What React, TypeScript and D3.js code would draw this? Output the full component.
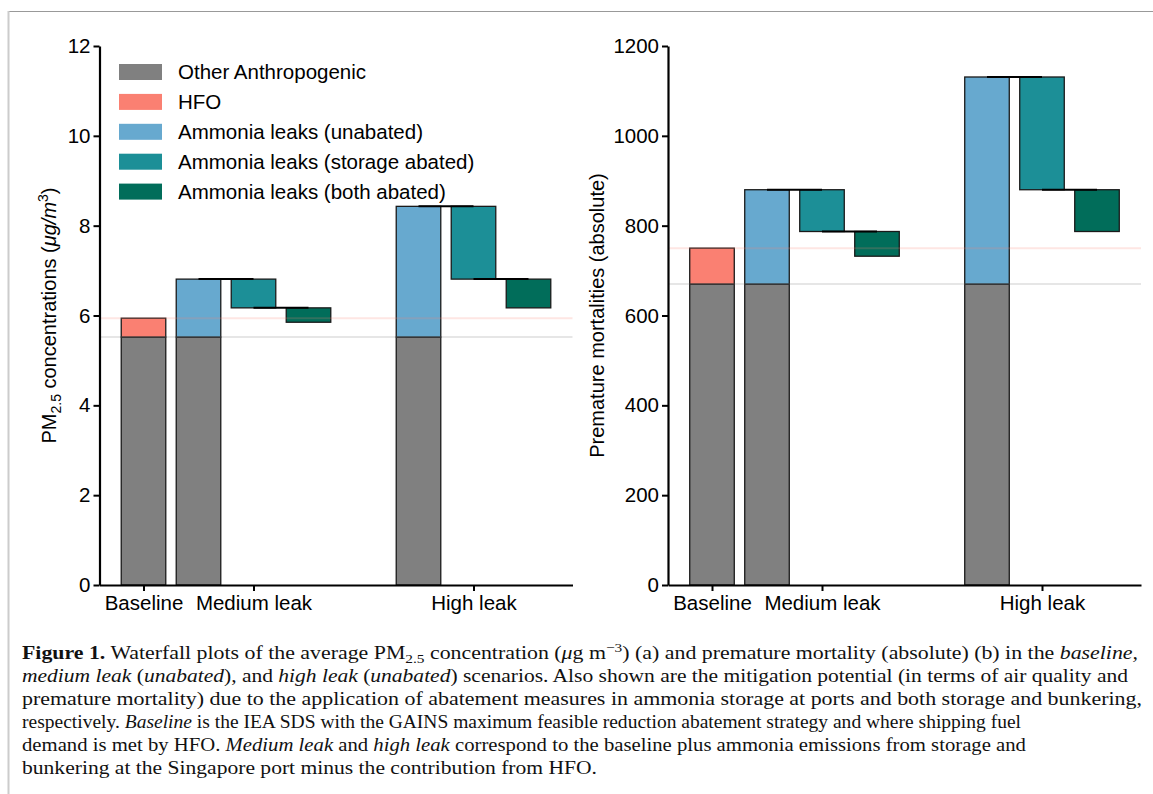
import React, { useEffect, useRef } from "react";
import * as d3 from "d3";

const FONT = "'Liberation Sans', Arial, Helvetica, sans-serif";
const SERIF = "'Liberation Serif', 'Times New Roman', serif";

const scenarios = ["Baseline", "Medium leak", "High leak"];
const tickSlots = [0, 2, 6];

const legendLabels = [
  "Other Anthropogenic",
  "HFO",
  "Ammonia leaks (unabated)",
  "Ammonia leaks (storage abated)",
  "Ammonia leaks (both abated)",
];
const colors = ["#808080", "#fa8072", "#67a9cf", "#1c8f97", "#016d5a"];

// PM2.5 (ug/m3): baseline = [other anthropogenic, + HFO]
const pmBaseline = [5.52, 5.94];
// leak scenarios = [unabated, storage abated, both abated]
const pmMedium = [6.81, 6.17, 5.85];
const pmHigh = [8.43, 6.81, 6.17];
const pmTicks = [0, 2, 4, 6, 8, 10, 12];

// premature mortalities (absolute)
const mortBaseline = [670, 750];
const mortMedium = [880, 787, 732];
const mortHigh = [1131, 880, 787];
const mortTicks = [0, 200, 400, 600, 800, 1000, 1200];

const yTop = 46;
const yBottom = 585;
const plotW = 473;

function Panel({ axisX, yMax, ticks, base, med, high, labelX, label, legend }: any) {
  const gx = useRef<SVGGElement>(null);
  const gy = useRef<SVGGElement>(null);

  const x = d3.scaleLinear().domain([-0.8, 7.8]).range([axisX, axisX + plotW]);
  const y = d3.scaleLinear().domain([0, yMax]).range([yBottom, yTop]);
  const bw = x(0.81) - x(0);

  useEffect(() => {
    const xAxis = d3
      .axisBottom(x)
      .tickValues(tickSlots)
      .tickFormat((d, i) => scenarios[i])
      .tickSize(6)
      .tickSizeOuter(0)
      .tickPadding(4);
    const sx = d3.select(gx.current).call(xAxis as any);
    const yAxis = d3
      .axisLeft(y)
      .tickValues(ticks)
      .tickFormat(d3.format("d"))
      .tickSize(6)
      .tickSizeOuter(0)
      .tickPadding(3);
    const sy = d3.select(gy.current).call(yAxis as any);
    [sx, sy].forEach((s) => {
      s.select(".domain").attr("stroke", "#000").attr("stroke-width", 2.2);
      s.selectAll(".tick line").attr("stroke", "#000").attr("stroke-width", 2);
      s.selectAll("text").attr("font-size", 20.5).attr("font-family", FONT).attr("fill", "#000");
    });
  }, [axisX, yMax]);

  const other = base[0];
  const bars = [
    { slot: 0, y0: 0, y1: other, c: colors[0] },
    { slot: 0, y0: other, y1: base[1], c: colors[1] },
    { slot: 1, y0: 0, y1: other, c: colors[0] },
    { slot: 1, y0: other, y1: med[0], c: colors[2] },
    { slot: 2, y0: med[1], y1: med[0], c: colors[3] },
    { slot: 3, y0: med[2], y1: med[1], c: colors[4] },
    { slot: 5, y0: 0, y1: other, c: colors[0] },
    { slot: 5, y0: other, y1: high[0], c: colors[2] },
    { slot: 6, y0: high[1], y1: high[0], c: colors[3] },
    { slot: 7, y0: high[2], y1: high[1], c: colors[4] },
  ];
  const connectors = [
    { from: 1, to: 2, v: med[0] },
    { from: 2, to: 3, v: med[1] },
    { from: 5, to: 6, v: high[0] },
    { from: 6, to: 7, v: high[1] },
  ];

  return (
    <g>
      {bars.map((b, i) => (
        <rect
          key={i}
          x={x(b.slot) - bw / 2}
          y={y(b.y1)}
          width={bw}
          height={y(b.y0) - y(b.y1)}
          fill={b.c}
          stroke="#1a1a1a"
          strokeWidth={1.3}
        />
      ))}
      <line x1={x(-0.8)} x2={x(7.8)} y1={y(base[1])} y2={y(base[1])} stroke="rgba(250,128,114,0.2)" strokeWidth={2} />
      <line x1={x(-0.8)} x2={x(7.8)} y1={y(other)} y2={y(other)} stroke="rgba(128,128,128,0.2)" strokeWidth={2} />
      {connectors.map((c, i) => (
        <line key={i} x1={x(c.from)} x2={x(c.to)} y1={y(c.v)} y2={y(c.v)} stroke="#000" strokeWidth={2} />
      ))}
      <g ref={gx} transform={`translate(0,${yBottom})`} />
      <g ref={gy} transform={`translate(${axisX},0)`} />
      <text
        transform={`translate(${labelX},${(yTop + yBottom) / 2}) rotate(-90)`}
        textAnchor="middle"
        fontFamily={FONT}
        fontSize={20}
        fill="#000"
      >
        {label}
      </text>
      {legend &&
        legendLabels.map((l, i) => (
          <g key={l} transform={`translate(119,${72 + i * 29.9})`}>
            <rect x={0} y={-8} width={43} height={16} fill={colors[i]} />
            <text x={59} y={7} fontFamily={FONT} fontSize={20.5} fill="#000">
              {l}
            </text>
          </g>
        ))}
    </g>
  );
}

const captionLines: any[] = [
  [
    ["b", "Figure 1."],
    ["", " Waterfall plots of the average PM"],
    ["sub", "2.5"],
    ["", " concentration ("],
    ["i", "\u03bc"],
    ["", "g m"],
    ["sup", "\u22123"],
    ["", ") (a) and premature mortality (absolute) (b) in the "],
    ["i", "baseline,"],
  ],
  [
    ["i", "medium leak"],
    ["", " ("],
    ["i", "unabated"],
    ["", "), and "],
    ["i", "high leak"],
    ["", " ("],
    ["i", "unabated"],
    ["", ") scenarios. Also shown are the mitigation potential (in terms of air quality and"],
  ],
  [["", "premature mortality) due to the application of abatement measures in ammonia storage at ports and both storage and bunkering,"]],
  [
    ["", "respectively. "],
    ["i", "Baseline"],
    ["", " is the IEA SDS with the GAINS maximum feasible reduction abatement strategy and where shipping fuel"],
  ],
  [
    ["", "demand is met by HFO. "],
    ["i", "Medium leak"],
    ["", " and "],
    ["i", "high leak"],
    ["", " correspond to the baseline plus ammonia emissions from storage and"],
  ],
  [["", "bunkering at the Singapore port minus the contribution from HFO."]],
];
const captionWidths = [1116, 1106, 1120, 999, 1004, 575];

function Caption() {
  return (
    <g>
      {captionLines.map((segs, li) => {
        let shift = 0;
        return (
          <text
            key={li}
            x={22}
            y={659 + li * 23}
            fontFamily={SERIF}
            fontSize={18.5}
            fill="#111"
            textLength={captionWidths[li]}
            lengthAdjust="spacingAndGlyphs"
          >
            {segs.map((s: any, si: number) => {
              let target = 0;
              if (s[0] === "sub") target = 4;
              if (s[0] === "sup") target = -7;
              const dy = target - shift;
              shift = target;
              return (
                <tspan
                  key={si}
                  dy={dy || undefined}
                  fontWeight={s[0] === "b" ? "bold" : undefined}
                  fontStyle={s[0] === "i" ? "italic" : undefined}
                  fontSize={s[0] === "sub" || s[0] === "sup" ? 13 : undefined}
                >
                  {s[1]}
                </tspan>
              );
            })}
          </text>
        );
      })}
    </g>
  );
}

export default function App() {
  const pmLabel = (
    <>
      <tspan>PM</tspan>
      <tspan dy={5} fontSize={14}>
        2.5
      </tspan>
      <tspan dy={-5}> concentrations (</tspan>
      <tspan fontStyle="italic">{"\u03bcg/m"}</tspan>
      <tspan dy={-8} fontSize={14}>
        3
      </tspan>
      <tspan dy={8}>)</tspan>
    </>
  );
  return (
    <svg
      width={1153}
      height={794}
      style={{ position: "absolute", left: 0, top: 0, background: "#fff" }}
    >
      <line x1={8} x2={1153} y1={11.5} y2={11.5} stroke="#999" strokeWidth={1} />
      <line x1={8.5} x2={8.5} y1={11} y2={794} stroke="#ccc" strokeWidth={2} />
      <Panel
        axisX={99.5}
        yMax={12}
        ticks={pmTicks}
        base={pmBaseline}
        med={pmMedium}
        high={pmHigh}
        labelX={56}
        label={pmLabel}
        legend
      />
      <Panel
        axisX={668}
        yMax={1200}
        ticks={mortTicks}
        base={mortBaseline}
        med={mortMedium}
        high={mortHigh}
        labelX={604}
        label="Premature mortalities (absolute)"
      />
      <Caption />
    </svg>
  );
}
